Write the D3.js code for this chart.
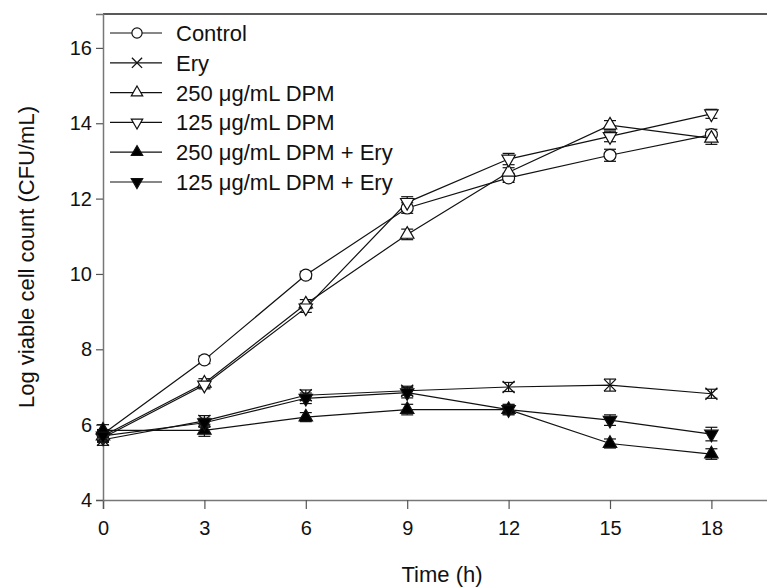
<!DOCTYPE html>
<html>
<head>
<meta charset="utf-8">
<script src="https://cdn.jsdelivr.net/npm/d3@7"></script>
<style>
  body { margin: 0; background: #fff; }
  svg { font-family: Arial, "Liberation Sans", sans-serif; }
</style>
</head>
<body>
<div id="chart"></div>
<script>
// time points (h)
const times = [0, 3, 6, 9, 12, 15, 18];

// series names, as in the legend
const seriesNames = ["Control", "Ery", "250 \u03bcg/mL DPM", "125 \u03bcg/mL DPM",
                     "250 \u03bcg/mL DPM + Ery", "125 \u03bcg/mL DPM + Ery"];

// log CFU/mL values
const control   = [5.75, 7.72, 9.97, 11.75, 12.55, 13.15, 13.7];
const ery       = [5.6, 6.1, 6.78, 6.9, 7.0, 7.05, 6.82];
const dpm250    = [5.7, 7.1, 9.2, 11.05, 12.7, 13.95, 13.6];
const dpm125    = [5.65, 7.05, 9.1, 11.9, 13.05, 13.65, 14.25];
const dpm250Ery = [5.85, 5.85, 6.2, 6.4, 6.4, 5.5, 5.22];
const dpm125Ery = [5.7, 6.05, 6.7, 6.85, 6.4, 6.12, 5.75];

// standard errors (small, estimated)
const controlErr   = [0.12, 0.1, 0.1, 0.14, 0.12, 0.16, 0.14];
const eryErr       = [0.15, 0.14, 0.14, 0.12, 0.12, 0.16, 0.12];
const dpm250Err    = [0.12, 0.12, 0.12, 0.14, 0.12, 0.12, 0.16];
const dpm125Err    = [0.12, 0.1, 0.12, 0.15, 0.15, 0.14, 0.12];
const dpm250EryErr = [0.15, 0.16, 0.12, 0.14, 0.12, 0.12, 0.14];
const dpm125EryErr = [0.15, 0.12, 0.14, 0.14, 0.14, 0.14, 0.18];

const yTicks = [4, 6, 8, 10, 12, 14, 16];

const width = 767;
const height = 587;
const margin = { top: 14, right: -12, bottom: 87, left: 103 };

const series = [
    { name: seriesNames[0], values: control,   err: controlErr,   marker: "circle", fill: "#fff" },
    { name: seriesNames[1], values: ery,       err: eryErr,       marker: "cross",  fill: "none" },
    { name: seriesNames[2], values: dpm250,    err: dpm250Err,    marker: "up",     fill: "#fff" },
    { name: seriesNames[3], values: dpm125,    err: dpm125Err,    marker: "down",   fill: "#fff" },
    { name: seriesNames[4], values: dpm250Ery, err: dpm250EryErr, marker: "up",     fill: "#000" },
    { name: seriesNames[5], values: dpm125Ery, err: dpm125EryErr, marker: "down",   fill: "#000" }
];

const svg = d3.select("#chart").append("svg")
    .attr("width", width)
    .attr("height", height);

const x = d3.scaleLinear()
    .domain([0, 20])
    .range([margin.left, width - margin.right]);

const y = d3.scaleLinear()
    .domain([4, 16.9])
    .range([height - margin.bottom, margin.top]);

// top frame line
svg.append("line")
    .attr("x1", x(0)).attr("x2", width)
    .attr("y1", y(16.9)).attr("y2", y(16.9))
    .attr("stroke", "#222").attr("stroke-width", 1.5);

// axes
const xAxis = svg.append("g")
    .attr("transform", `translate(0,${y(4)})`)
    .call(d3.axisBottom(x).tickValues(times).tickSize(9).tickPadding(12));

const yAxis = svg.append("g")
    .attr("transform", `translate(${x(0)},0)`)
    .call(d3.axisLeft(y).tickValues(yTicks).tickSize(7).tickPadding(4));

[xAxis, yAxis].forEach(g => {
    g.select(".domain").attr("stroke", "#777").attr("stroke-width", 1.5);
    g.selectAll(".tick line").attr("stroke", "#555").attr("stroke-width", 1.2);
    g.selectAll(".tick text")
        .attr("fill", "#111")
        .style("font-size", "20px")
        .style("font-family", "Arial, 'Liberation Sans', sans-serif");
});

// axis titles
svg.append("text")
    .attr("x", 442)
    .attr("y", 582)
    .attr("text-anchor", "middle")
    .style("font-size", "22px")
    .attr("fill", "#111")
    .text("Time (h)");

svg.append("text")
    .attr("transform", `translate(34,${y(10.45)}) rotate(-90)`)
    .attr("text-anchor", "middle")
    .style("font-size", "22px")
    .attr("fill", "#111")
    .text("Log viable cell count (CFU/mL)");

// marker drawing
function drawMarker(g, type, fill, s) {
    if (type === "circle") {
        g.append("path")
            .attr("d", d3.symbol(d3.symbolCircle, 113 * s * s)())
            .attr("fill", fill).attr("stroke", "#111").attr("stroke-width", 1.2);
    } else if (type === "up" || type === "down") {
        g.append("path")
            .attr("d", d3.symbol(d3.symbolTriangle, 78 * s * s)())
            .attr("transform", type === "down" ? "rotate(180)" : null)
            .attr("fill", fill).attr("stroke", "#111").attr("stroke-width", 1.2);
    } else {
        const r = 6 * s;
        g.append("path")
            .attr("d", `M${-r},${-r}L${r},${r}M${-r},${r}L${r},${-r}`)
            .attr("stroke", "#111").attr("stroke-width", 1.3);
    }
}

const line = d3.line()
    .x((d, i) => x(times[i]))
    .y(d => y(d));

const plot = svg.append("g");

series.forEach(s => {
    plot.append("path")
        .datum(s.values)
        .attr("fill", "none")
        .attr("stroke", "#111")
        .attr("stroke-width", 1.2)
        .attr("d", line);
});

// error bars
series.forEach(s => {
    const eg = plot.append("g").attr("stroke", "#111").attr("stroke-width", 1.2);
    s.values.forEach((v, i) => {
        const cx = x(times[i]);
        const top = y(v + s.err[i]);
        const bot = y(v - s.err[i]);
        eg.append("line").attr("x1", cx).attr("x2", cx).attr("y1", top).attr("y2", bot);
        eg.append("line").attr("x1", cx - 6).attr("x2", cx + 6).attr("y1", top).attr("y2", top);
        eg.append("line").attr("x1", cx - 6).attr("x2", cx + 6).attr("y1", bot).attr("y2", bot);
    });
});

// markers
series.forEach(s => {
    s.values.forEach((v, i) => {
        const g = plot.append("g").attr("transform", `translate(${x(times[i])},${y(v)})`);
        drawMarker(g, s.marker, s.fill, 1);
    });
});

// legend
const legend = svg.append("g").attr("transform", "translate(110,33)");
series.forEach((s, i) => {
    const row = legend.append("g").attr("transform", `translate(0,${i * 29.8})`);
    row.append("line")
        .attr("x1", 0).attr("x2", 52)
        .attr("stroke", "#111").attr("stroke-width", 1.2);
    const m = row.append("g").attr("transform", "translate(27,0)");
    drawMarker(m, s.marker, s.fill, 0.85);
    row.append("text")
        .attr("x", 66)
        .attr("dy", "0.36em")
        .style("font-size", "22px")
        .attr("fill", "#111")
        .text(s.name);
});
</script>
</body>
</html>
